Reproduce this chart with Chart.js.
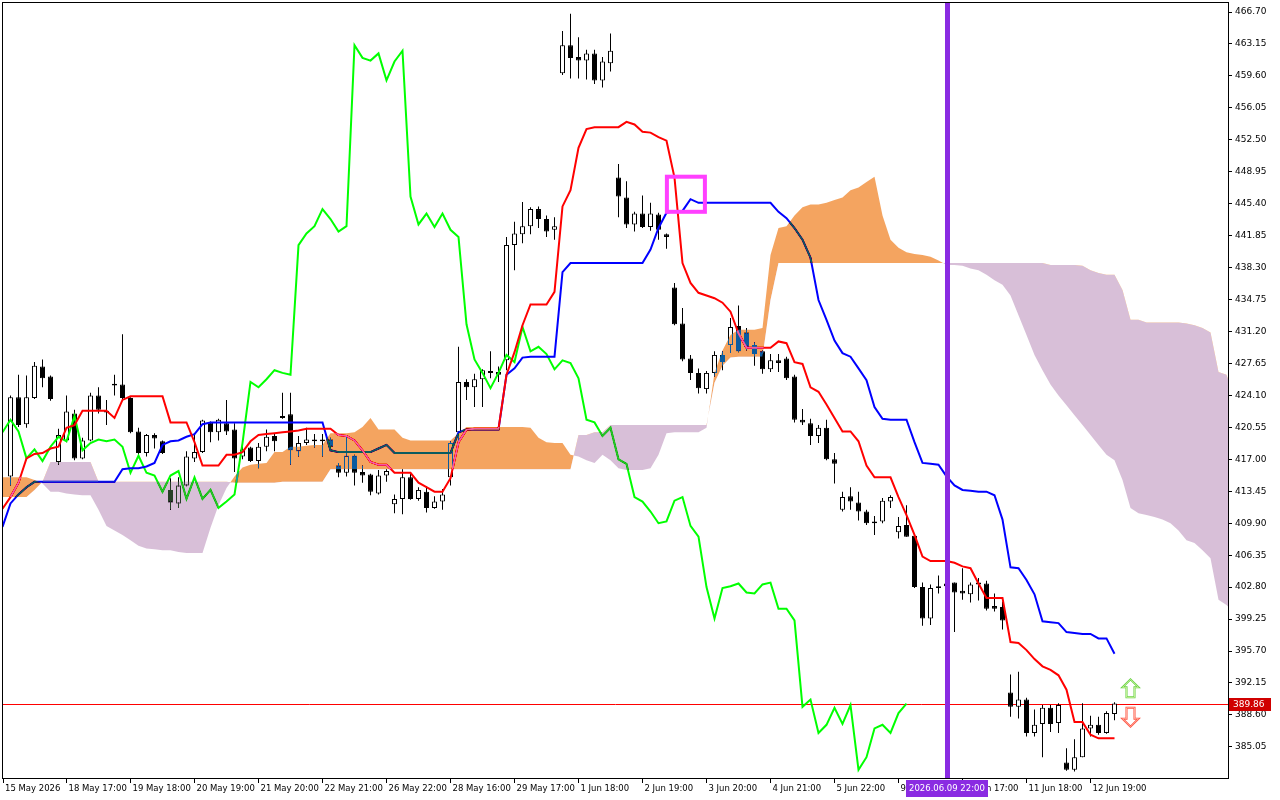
<!DOCTYPE html>
<html><head><meta charset="utf-8">
<script src="https://cdn.jsdelivr.net/npm/chart.js"></script>
<style>html,body{margin:0;padding:0;background:#fff;overflow:hidden}canvas{display:block}</style>
</head><body>
<canvas id="c" width="1280" height="800"></canvas>
<script>
// ---- data (H1 bars, index 0 = first visible candle) ----
const opens = [
 415.1,423.9,420.9,423.8,427.3,426.2,416.7,419.1,422.1,417.1,
 419.1,424.1,422.4,425.4,425.3,423.8,420.1,417.7,419.7,419.0,
 413.6,412.1,414.1,417.1,417.8,421.1,420.0,421.0,420.3,417.3,
 418.3,416.8,418.4,419.6,421.6,422.0,417.9,418.8,419.2,419.0,
 419.2,416.3,415.5,417.4,415.6,415.3,413.2,415.2,412.0,412.6,
 415.0,412.6,413.4,411.6,412.3,415.0,420.0,425.6,425.0,425.9,
 426.8,426.7,428.0,440.8,442.0,442.9,444.8,443.7,442.5,459.9,
 463.0,461.7,461.3,462.1,459.1,461.0,448.3,446.1,443.1,444.3,
 442.8,444.2,442.0,436.1,432.1,428.2,426.6,424.8,426.6,428.6,
 429.7,431.8,431.1,429.7,429.0,427.0,428.0,428.2,426.2,421.4,
 421.0,419.6,420.5,417.0,411.4,412.9,412.2,411.2,409.9,410.1,
 412.3,408.9,409.7,408.5,402.8,399.3,402.7,402.9,403.3,402.4,
 402.0,403.1,403.2,400.7,400.6,391.1,389.5,390.3,386.6,387.6,
 389.4,387.7,383.3,382.5,383.9,387.1,387.5,386.6,388.7];
const highs = [
 424.1,426.4,426.3,427.8,428.1,426.3,420.4,424.1,422.5,419.4,
 424.4,425.0,423.6,426.4,430.9,423.9,420.5,419.8,419.9,419.1,
 414.9,415.0,417.9,419.7,421.4,421.2,421.5,423.6,421.0,418.4,
 418.4,418.8,420.3,419.9,424.4,424.4,419.6,420.5,419.8,419.8,
 419.4,416.6,419.5,417.5,416.3,415.4,415.8,415.9,413.1,415.9,
 415.4,413.9,414.0,412.9,413.7,419.0,429.5,425.9,426.5,427.0,
 429.0,427.3,441.7,443.4,445.6,445.0,445.1,444.1,443.9,464.6,
 466.5,463.9,462.5,462.5,461.7,464.3,449.8,447.9,444.5,446.3,
 445.5,444.4,442.1,436.6,433.8,428.6,427.1,426.8,429.0,429.0,
 432.7,434.1,431.6,430.0,429.1,428.7,428.7,428.4,426.4,422.6,
 421.5,420.8,421.4,417.7,413.4,413.9,413.4,411.4,410.7,412.7,
 413.0,410.6,411.9,408.6,403.3,403.1,404.1,403.6,403.3,404.9,
 403.3,403.8,403.5,402.1,401.2,393.1,393.4,390.5,389.2,389.7,
 389.7,389.9,384.9,385.9,389.9,388.5,388.4,389.0,390.0];
const lows = [
 414.1,420.6,420.5,423.7,425.0,423.5,416.4,418.9,416.9,417.0,
 419.0,422.1,420.8,424.1,423.7,419.9,417.3,417.3,418.2,417.6,
 411.4,411.6,414.0,416.7,417.7,418.9,419.1,419.7,415.6,417.0,
 416.7,416.0,417.9,417.9,421.5,416.4,417.3,418.6,418.3,417.3,
 418.1,415.0,415.1,414.1,414.4,413.0,413.1,414.5,411.0,410.9,
 412.5,412.4,411.1,411.5,411.4,414.1,418.8,423.6,422.8,422.8,
 426.0,425.6,426.9,438.0,441.0,442.0,442.7,441.7,441.4,459.7,
 459.3,459.3,459.2,458.7,458.3,460.1,443.9,442.7,442.3,442.7,
 442.4,441.4,440.4,431.9,427.9,425.8,424.3,424.3,426.2,426.9,
 428.8,428.9,429.1,427.4,426.5,426.7,426.7,425.8,421.1,420.8,
 418.6,418.8,416.9,414.3,411.2,411.4,410.2,409.7,408.6,409.9,
 411.6,408.2,408.4,402.7,398.5,398.6,402.1,402.3,397.8,401.4,
 401.1,401.3,400.2,400.1,398.1,388.4,388.2,386.2,386.2,383.9,
 386.7,386.6,382.4,382.3,383.9,386.2,386.4,386.5,388.0];
const closes = [
 423.9,420.8,423.9,427.4,426.0,423.7,419.7,422.3,417.1,419.1,
 424.1,422.5,422.2,425.2,423.8,420.0,417.7,419.7,419.3,417.7,
 412.2,414.1,417.3,417.8,421.3,420.0,421.4,420.1,417.1,418.1,
 416.8,418.4,419.5,419.0,421.8,418.0,418.8,419.2,419.0,419.2,
 418.4,415.5,417.4,415.5,415.2,413.4,415.2,415.7,412.6,415.0,
 412.6,413.6,411.6,412.3,413.1,418.8,425.6,425.0,425.9,426.9,
 426.6,426.4,440.8,442.1,442.9,444.8,443.7,442.3,442.9,463.0,
 461.6,461.3,462.1,459.1,461.2,462.4,446.2,443.1,444.3,442.8,
 444.3,442.5,441.7,432.0,428.1,426.6,424.9,426.6,428.6,427.8,
 431.7,429.0,429.5,428.7,427.0,428.0,427.7,426.0,421.4,421.1,
 419.6,420.5,417.0,416.5,412.8,412.3,411.2,409.9,410.1,412.4,
 412.8,409.6,408.4,402.8,399.3,402.7,402.9,403.2,402.2,402.1,
 403.1,403.3,400.4,400.4,399.1,389.5,390.3,386.6,387.5,389.4,
 387.6,389.7,382.5,383.9,387.1,387.5,386.6,388.8,389.86];

// Ichimoku lines, first value belongs to bar -1
const lineStart = -1;
const tenkan = [
 411.5,412.8,414.4,417.1,417.6,417.7,418.2,418.4,420.5,420.8,
 422.4,422.4,422.4,422.4,421.6,423.6,424.0,424.0,424.0,424.0,
 424.0,421.1,421.1,421.1,418.9,416.3,416.3,416.3,417.5,417.5,
 417.8,419.0,419.7,419.8,419.9,420.0,420.1,420.2,420.4,420.4,
 420.4,420.4,419.7,419.6,419.1,418.0,416.7,416.4,416.4,415.5,
 415.5,415.5,414.4,413.9,413.4,413.4,414.9,418.9,420.3,420.4,
 420.4,420.4,420.4,426.4,428.9,431.9,434.2,434.2,434.2,435.6,
 445.1,446.9,451.6,453.7,453.9,453.9,453.9,453.9,454.5,454.2,
 453.4,453.3,452.8,452.4,448.3,438.8,436.6,435.5,435.2,434.9,
 434.4,433.4,431.0,429.4,429.4,429.4,429.4,430.1,429.9,427.8,
 427.6,425.0,424.5,423.1,421.6,420.1,420.1,419.0,416.3,415.0,
 415.0,415.0,412.8,410.8,408.6,406.2,405.7,405.7,405.7,405.5,
 405.1,404.9,403.2,401.6,401.6,401.6,396.7,396.6,395.8,394.8,
 394.0,393.6,393.0,391.4,387.8,387.8,386.4,386.0,386.0,386.0];
const kijun = [
 409.5,412.1,413.1,413.9,414.5,414.5,414.5,414.5,414.5,414.5,
 414.5,414.5,414.5,414.5,414.5,415.9,416.0,416.0,416.2,416.6,
 418.6,419.0,419.1,419.5,419.8,420.9,421.1,421.1,421.1,421.1,
 421.1,421.1,421.1,421.1,421.1,421.1,421.1,421.1,421.1,421.1,
 421.1,418.0,417.8,417.8,417.8,417.8,417.8,418.2,418.6,417.7,
 417.7,417.7,417.7,417.7,417.7,417.7,417.7,420.0,420.3,420.3,
 420.3,420.3,420.3,426.4,427.1,428.3,428.4,428.4,428.4,428.4,
 437.8,438.8,438.8,438.8,438.8,438.8,438.8,438.8,438.8,438.8,
 438.8,440.3,442.7,444.4,444.6,444.6,445.9,445.5,445.5,445.5,
 445.5,445.5,445.5,445.5,445.5,445.5,445.5,444.5,443.8,442.7,
 441.4,439.4,434.7,432.5,430.2,428.8,428.4,427.1,425.8,422.8,
 421.5,421.4,421.4,421.4,418.9,416.6,416.5,416.4,415.1,414.1,
 413.6,413.5,413.4,413.4,413.0,410.3,405.0,404.9,403.6,402.0,
 399.0,398.9,398.8,397.8,397.7,397.6,397.6,397.1,397.1,395.4];
const chikou = [
 420.0,421.4,420.1,417.1,418.1,416.8,418.4,419.5,419.0,421.8,
 418.0,418.8,419.2,419.0,419.2,418.4,415.5,417.4,415.5,415.2,
 413.4,415.2,415.7,412.6,415.0,412.6,413.6,411.6,412.3,413.1,
 418.8,425.6,425.0,425.9,426.9,426.6,426.4,440.8,442.1,442.9,
 444.8,443.7,442.3,442.9,463.0,461.6,461.3,462.1,459.1,461.2,
 462.4,446.2,443.1,444.3,442.8,444.3,442.5,441.7,432.0,428.1,
 426.6,424.9,426.6,428.6,427.8,431.7,429.0,429.5,428.7,427.0,
 428.0,427.7,426.0,421.4,421.1,419.6,420.5,417.0,416.5,412.8,
 412.3,411.2,409.9,410.1,412.4,412.8,409.6,408.4,402.8,399.3,
 402.7,402.9,403.2,402.2,402.1,403.1,403.3,400.4,400.4,399.1,
 389.5,390.3,386.6,387.5,389.4,387.6,389.7,382.5,383.9,387.1,
 387.5,386.6,388.8,389.86];
const spanA = [
 415.0,415.0,415.0,415.0,414.7,414.3,413.4,413.4,413.2,413.1,
 413.0,413.0,411.4,409.6,409.1,408.6,408.0,407.4,407.1,407.0,
 406.9,406.9,406.7,406.6,406.6,406.6,409.4,411.9,413.8,415.1,
 416.1,416.4,416.5,416.6,417.8,417.8,418.4,418.4,418.5,418.6,
 418.6,419.9,419.9,419.9,420.0,420.6,421.6,420.3,420.3,420.3,
 419.4,419.1,419.1,419.1,419.1,419.1,419.1,419.9,420.6,420.6,
 420.6,420.6,420.6,420.6,420.6,420.6,420.5,419.4,418.9,418.8,
 418.8,417.5,417.3,416.9,416.6,417.5,416.9,416.0,415.8,415.8,
 415.8,416.0,417.5,419.9,420.0,420.0,420.0,420.0,420.5,426.6,
 429.1,430.8,431.4,431.4,431.4,431.6,439.7,442.7,442.9,444.1,
 445.0,445.3,445.3,445.5,445.8,446.1,446.9,447.2,447.8,448.4,
 444.1,441.4,440.5,440.0,439.8,439.7,439.5,439.1,438.6,438.6,
 438.5,438.2,438.0,437.5,436.9,436.4,435.2,433.0,430.8,428.6,
 426.9,425.3,424.1,423.0,421.9,420.8,419.7,418.6,417.5,416.9,
 414.7,411.6,411.0,410.8,410.6,410.3,409.9,409.1,408.0,407.7,
 406.9,406.0,401.4,400.8,400.0];
const spanB = [
 412.8,412.8,412.8,412.8,413.6,414.5,416.7,416.7,416.7,416.7,
 416.7,416.7,414.5,414.5,414.5,414.5,414.5,414.5,414.5,414.5,
 414.5,414.5,414.5,414.5,414.5,414.5,414.5,414.5,414.5,414.4,
 414.4,414.4,414.4,414.4,414.4,414.5,414.5,414.5,414.5,414.5,
 414.5,415.9,415.9,415.9,415.9,415.9,415.9,415.9,415.9,415.9,
 415.9,415.9,415.9,415.9,415.9,415.9,415.9,415.9,415.9,415.9,
 415.9,415.9,415.9,415.9,415.9,415.9,415.9,415.9,415.9,415.9,
 415.9,415.9,419.7,419.7,420.0,420.0,420.8,420.8,420.8,420.8,
 420.8,420.8,420.8,420.8,420.8,420.8,420.8,420.8,420.8,425.5,
 427.4,428.3,428.4,428.4,428.4,428.4,434.7,438.8,438.8,438.8,
 438.8,438.8,438.8,438.8,438.8,438.8,438.8,438.8,438.8,438.8,
 438.8,438.8,438.8,438.8,438.8,438.8,438.8,438.8,438.8,438.8,
 438.8,438.8,438.8,438.8,438.8,438.8,438.8,438.8,438.8,438.8,
 438.8,438.6,438.6,438.6,438.6,438.5,438.0,437.7,437.5,437.5,
 435.8,432.5,432.5,432.2,432.2,432.2,432.2,432.2,432.1,431.9,
 431.6,431.1,426.7,426.4,423.9];

// axes
const firstDateLabel = '15 May 2026';
const xTickBars = [7,15,23,31,39,47,55,63,71,79,87,95,103,111,119,127,135];
const xTickLabels = ['18 May 17:00','19 May 18:00','20 May 19:00','21 May 20:00','22 May 21:00',
 '26 May 22:00','28 May 16:00','29 May 17:00','1 Jun 18:00','2 Jun 19:00','3 Jun 20:00',
 '4 Jun 21:00','5 Jun 22:00','9 Jun 16:00','10 Jun 17:00','11 Jun 18:00','12 Jun 19:00'];
const yTickValues = [385.05,388.60,392.15,395.70,399.25,402.80,406.35,409.90,413.45,417.00,420.55,424.10,
 427.65,431.20,434.75,438.30,441.85,445.40,448.95,452.50,456.05,459.60,463.15,466.70];
const xMin = -0.9375, xMax = 152.1875;
const yMin = 381.59, yMax = 467.70;

// annotations
const lastPrice = 389.86;
const markerBar = 117;
const markerLabel = '2026.06.09 22:00';
const boxBars = [82.05, 86.8];
const boxPrices = [448.4, 444.5];
const arrowBar = 140;
const upArrowPrice = 392.55;
const downArrowPrice = 389.4;

const FONT_X = '8.5px "DejaVu Sans"';
const FONT_Y = '9px "DejaVu Sans"';

const pts = (arr, start) => arr.map((v, k) => ({x: start + k, y: v}));
const wickData = lows.map((l, k) => ({x: k, y: [l, highs[k]]}));
const bodyData = opens.map((o, k) => ({x: k, y: [o, closes[k]]}));
const bodyColors = opens.map((o, k) => closes[k] >= o ? '#ffffff' : '#000000');

const IDX_A = 5, IDX_B = 6;

const mtPlugin = {
  id: 'mt',
  beforeDraw(chart) {
    const c = chart.ctx; c.save(); c.fillStyle = '#fff'; c.fillRect(0, 0, chart.width, chart.height); c.restore();
  },
  beforeDatasetsDraw(chart) {
    const c = chart.ctx, a = chart.chartArea, ys = chart.scales.y;
    const y = Math.round(ys.getPixelForValue(lastPrice)) + 0.5;
    c.save(); c.strokeStyle = '#ff0000'; c.lineWidth = 1;
    c.beginPath(); c.moveTo(a.left, y); c.lineTo(a.right, y); c.stroke(); c.restore();
  },
  afterDatasetDraw(chart, args) {
    if (args.index === IDX_B) chart.ctx.globalCompositeOperation = 'difference';
    if (args.index === IDX_A) chart.ctx.globalCompositeOperation = 'source-over';
  },
  afterDraw(chart) {
    const c = chart.ctx, a = chart.chartArea, xs = chart.scales.x, ys = chart.scales.y;
    c.save();
    c.globalCompositeOperation = 'source-over';
    // frame
    c.strokeStyle = '#000'; c.lineWidth = 1;
    c.strokeRect(a.left - 0.5, a.top - 0.5, a.right - a.left + 1, a.bottom - a.top + 1);
    // vertical marker line
    const mx = xs.getPixelForValue(markerBar);
    c.fillStyle = '#8a2be2';
    c.fillRect(Math.round(mx) - 2.5 + 0.5, a.top, 5, a.bottom - a.top);
    // marker label
    c.font = FONT_X;
    const tw = c.measureText(markerLabel).width;
    const bw = Math.round(tw + 6);
    const bx = Math.round(mx - bw / 2);
    c.fillStyle = '#8a2be2';
    c.fillRect(bx, a.bottom + 2, bw, 17);
    c.fillStyle = '#fff'; c.textBaseline = 'middle'; c.textAlign = 'left';
    c.fillText(markerLabel, bx + 3, a.bottom + 11);
    // price label
    c.font = FONT_Y;
    const py = Math.round(ys.getPixelForValue(lastPrice));
    c.fillStyle = '#d00000';
    c.fillRect(a.right + 1, py - 6, 42, 13);
    c.fillStyle = '#fff';
    c.fillText(lastPrice.toFixed(2), a.right + 5, py + 1);
    // magenta box
    const x1 = xs.getPixelForValue(boxBars[0]), x2 = xs.getPixelForValue(boxBars[1]);
    const y1 = ys.getPixelForValue(boxPrices[0]), y2 = ys.getPixelForValue(boxPrices[1]);
    c.strokeStyle = '#ff40ff'; c.lineWidth = 4;
    c.strokeRect(x1, y1, x2 - x1, y2 - y1);
    // arrows
    const ax = xs.getPixelForValue(arrowBar);
    const uy = ys.getPixelForValue(upArrowPrice);
    c.lineJoin = 'miter';
    c.beginPath();
    c.moveTo(ax, uy); c.lineTo(ax + 8, uy + 8); c.lineTo(ax + 4, uy + 8); c.lineTo(ax + 4, uy + 18);
    c.lineTo(ax - 4, uy + 18); c.lineTo(ax - 4, uy + 8); c.lineTo(ax - 8, uy + 8); c.closePath();
    c.strokeStyle = '#5fcf3f'; c.lineWidth = 2; c.stroke();
    c.strokeStyle = '#d9f7a8'; c.lineWidth = 0.8; c.stroke();
    const dy = ys.getPixelForValue(downArrowPrice);
    c.beginPath();
    c.moveTo(ax - 4, dy); c.lineTo(ax + 4, dy); c.lineTo(ax + 4, dy + 11); c.lineTo(ax + 8, dy + 11);
    c.lineTo(ax, dy + 19); c.lineTo(ax - 8, dy + 11); c.lineTo(ax - 4, dy + 11); c.closePath();
    c.strokeStyle = '#ff4a3a'; c.lineWidth = 2; c.stroke();
    c.strokeStyle = '#ffc0b0'; c.lineWidth = 0.8; c.stroke();
    c.restore();
  }
};

const lineDs = (label, data, color, order) => ({
  type: 'line', label, data, borderColor: color, borderWidth: 2, pointRadius: 0,
  pointHoverRadius: 0, tension: 0, fill: false, order
});

new Chart(document.getElementById('c'), {
  type: 'bar',
  data: {
    datasets: [
      {type: 'bar', label: 'wick', data: wickData, backgroundColor: '#000', borderWidth: 0,
       barThickness: 1, grouped: false, order: 6, inflateAmount: 0},
      {type: 'bar', label: 'body', data: bodyData, backgroundColor: bodyColors, borderColor: '#000',
       borderWidth: 1, borderSkipped: false, barThickness: 5, grouped: false, order: 5,
       minBarLength: 1, inflateAmount: 0},
      lineDs('Chikou', pts(chikou, lineStart), '#00ff00', 4),
      lineDs('Kijun', pts(kijun, lineStart), '#0000ff', 3),
      lineDs('Tenkan', pts(tenkan, lineStart), '#ff0000', 2),
      {type: 'line', label: 'SpanA', data: pts(spanA, lineStart), borderWidth: 0,
       borderColor: 'rgba(0,0,0,0)', pointRadius: 0, tension: 0, order: 0,
       fill: {target: '+1', above: 'rgb(11,91,159)', below: 'rgb(39,64,39)'}},
      {type: 'line', label: 'SpanB', data: pts(spanB, lineStart), borderWidth: 0,
       borderColor: 'rgba(0,0,0,0)', pointRadius: 0, tension: 0, order: 1, fill: false}
    ]
  },
  options: {
    responsive: false, animation: false, devicePixelRatio: 1,
    layout: {padding: {left: 3, top: 3, right: 0, bottom: 0}},
    plugins: {legend: {display: false}, tooltip: {enabled: false}},
    events: [],
    scales: {
      x: {
        type: 'linear', position: 'bottom', min: xMin, max: xMax, offset: false,
        afterBuildTicks: s => { s.ticks = [{value: xMin}].concat(xTickBars.map(v => ({value: v}))); },
        afterFit: s => { s.height = 22; s.paddingLeft = 0; s.paddingRight = 0; },
        grid: {drawOnChartArea: false, drawTicks: true, tickLength: 5, color: '#000', offset: false},
        border: {display: false},
        ticks: {
          autoSkip: false, maxRotation: 0, minRotation: 0, align: 'start', labelOffset: 2, padding: 1,
          color: '#000', font: {family: 'DejaVu Sans', size: 8.5},
          callback: (v, i) => i === 0 ? firstDateLabel : xTickLabels[i - 1]
        }
      },
      y: {
        type: 'linear', position: 'right', min: yMin, max: yMax,
        afterBuildTicks: s => { s.ticks = yTickValues.map(v => ({value: v})); },
        afterFit: s => { s.width = 52; s.paddingTop = 0; s.paddingBottom = 0; },
        grid: {drawOnChartArea: false, drawTicks: true, tickLength: 4, color: '#000'},
        border: {display: false},
        ticks: {autoSkip: false, padding: 3, color: '#000', font: {family: 'DejaVu Sans', size: 9},
          callback: v => Number(v).toFixed(2)}
      }
    }
  },
  plugins: [mtPlugin]
});
</script>
</body></html>
